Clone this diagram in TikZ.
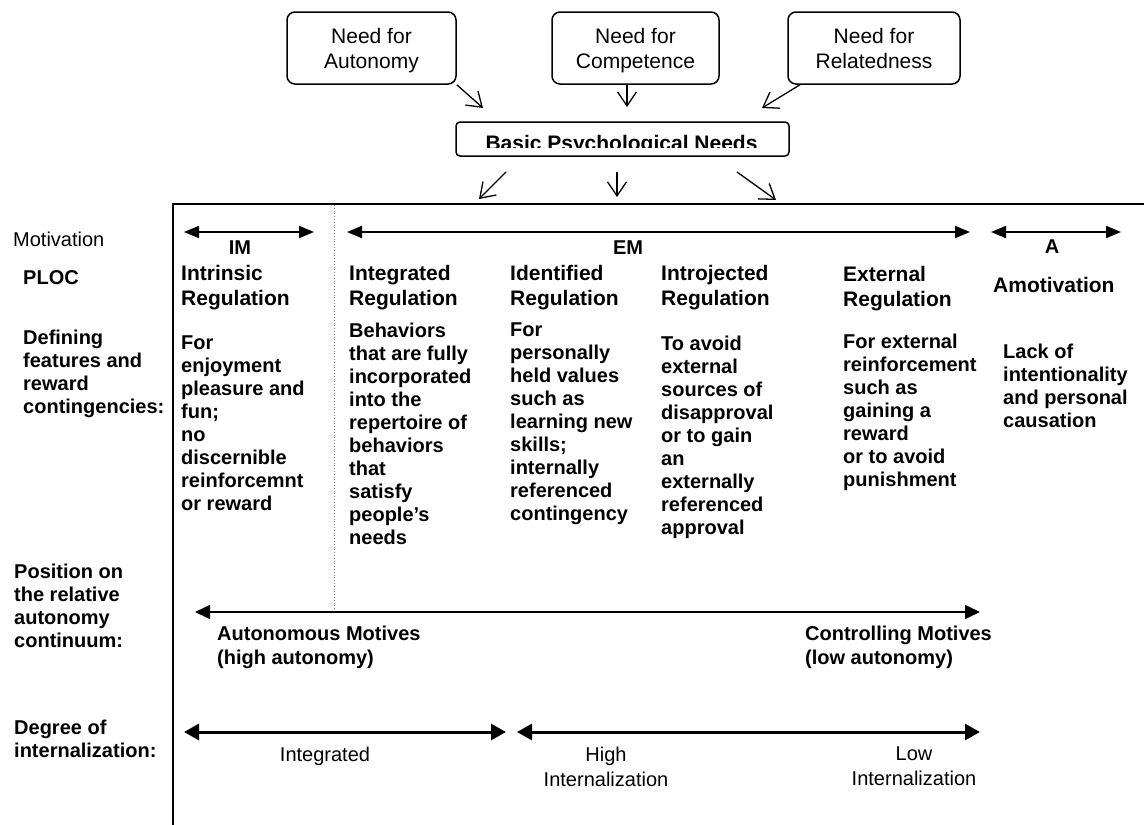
\documentclass[tikz,border=0pt]{standalone}
\usepackage{fontspec}
\setmainfont{Liberation Sans}
\usetikzlibrary{arrows.meta}
\begin{document}
\begin{tikzpicture}[x=1pt,y=-1pt,
  needbox/.style={draw, line width=1.5pt, rounded corners=8pt, minimum width=169pt, minimum height=72pt, inner sep=0pt, align=center, font=\fontsize{21}{25}\selectfont},
  basicbox/.style={draw, line width=1.5pt, rounded corners=4pt, minimum width=333pt, minimum height=34pt, inner sep=0pt},
  needarrow/.style={line width=1.3pt, -{Straight Barb[length=14pt,width=19pt,line width=1.3pt]}},
  catarrow/.style={line width=2pt, {Triangle[length=15pt,width=12pt]}-{Triangle[length=15pt,width=12pt]}},
  autarrow/.style={line width=1.5pt, {Triangle[length=15pt,width=14pt]}-{Triangle[length=15pt,width=14pt]}},
  degarrow/.style={line width=3pt, {Triangle[length=15pt,width=16pt]}-{Triangle[length=15pt,width=16pt]}},
  frame/.style={line width=1.8pt},
  bodytext/.style={font=\bfseries\fontsize{20}{23}\selectfont, align=left, anchor=north west, inner sep=0pt},
  titletext/.style={font=\bfseries\fontsize{21}{25}\selectfont, align=left, anchor=north west, inner sep=0pt},
  regtext/.style={font=\fontsize{20}{25}\selectfont, align=center, anchor=north, inner sep=0pt},
  cattext/.style={font=\bfseries\fontsize{20}{23}\selectfont, anchor=center, inner sep=0pt}
]
\useasboundingbox (0,0) rectangle (1144,825);

% top need boxes
\node[needbox] (aut) at (371.5,48) {Need for\\\smash{Autonomy}};
\node[needbox, minimum width=167pt] (comp) at (635.5,48) {Need for\\\smash{Competence}};
\node[needbox, minimum width=172pt] (rel) at (874,48) {Need for\\\smash{Relatedness}};

% basic needs box
\node[basicbox] (basic) at (622.5,139) {};
\begin{scope}
  \clip (458,124) rectangle (787,147);
  \node[font=\bfseries\fontsize{21}{24}\selectfont, anchor=base, inner sep=0pt] (basictext) at (621.5,150) {Basic Psychological Needs};
\end{scope}

% arrows into basic box
\coordinate (a1) at (483,108);
\coordinate (c1) at (627,107);
\coordinate (r1) at (762,108);
\draw[needarrow] (aut.south east) -- (a1);
\draw[needarrow] ([xshift=-8.5pt]comp.south) -- (c1);
\draw[needarrow] ([xshift=-74pt]rel.south) -- (r1);

% arrows out of basic box
\coordinate (b1s) at (506,172); \coordinate (b1e) at (479,199);
\coordinate (b2s) at (617,172); \coordinate (b2e) at (617,197);
\coordinate (b3s) at (737,172); \coordinate (b3e) at (776,200);
\draw[needarrow] (b1s) -- (b1e);
\draw[needarrow] (b2s) -- (b2e);
\draw[needarrow] (b3s) -- (b3e);

% frame
\coordinate (fbl) at (173,825);
\coordinate (ftl) at (173,204);
\coordinate (ftr) at (1144,204);
\draw[frame] (fbl) -- (ftl) -- (ftr);

% dotted separator
\coordinate (dtop) at (334,205);
\coordinate (dbot) at (334,612);
\draw[gray, dotted, line width=0.8pt] (dtop) -- (dbot);

% category arrows
\coordinate (im1) at (184,232); \coordinate (im2) at (314,232);
\coordinate (em1) at (347,232); \coordinate (em2) at (970,232);
\coordinate (am1) at (991,232); \coordinate (am2) at (1121,232);
\draw[catarrow] (im1) -- (im2);
\draw[catarrow] (em1) -- (em2);
\draw[catarrow] (am1) -- (am2);
\node[cattext] (imlab) at (240,248) {IM};
\node[cattext] (emlab) at (628,248) {EM};
\node[cattext] (alab) at (1052,247) {A};

% left labels
\node[font=\fontsize{20}{23}\selectfont, anchor=north west, inner sep=0pt] (motiv) at (13,232) {Motivation};
\node[bodytext] (ploc) at (23,270) {PLOC};
\node[bodytext] (defin) at (23,330) {Defining\\features and\\reward\\contingencies:};
\node[bodytext] (posit) at (14,564) {Position on\\the relative\\autonomy\\continuum:};
\node[bodytext] (degree) at (14,720) {Degree of\\internalization:};

% titles
\node[titletext] (t1) at (181,265) {Intrinsic\\Regulation};
\node[titletext] (t2) at (349,265) {Integrated\\Regulation};
\node[titletext] (t3) at (510,265) {Identified\\Regulation};
\node[titletext] (t4) at (661,265) {Introjected\\Regulation};
\node[titletext] (t5) at (843,266) {External\\Regulation};
\node[titletext] (t6) at (993,277) {Amotivation};

% body texts
\node[bodytext] (d1) at (181,336) {For\\enjoyment\\pleasure and\\fun;\\no\\discernible\\reinforcemnt\\or reward};
\node[bodytext] (d2) at (349,323) {Behaviors\\that are fully\\incorporated\\into the\\repertoire of\\behaviors\\that\\satisfy\\people’s\\needs};
\node[bodytext] (d3) at (510,323) {For\\personally\\held values\\such as\\learning new\\skills;\\internally\\referenced\\contingency};
\node[bodytext] (d4) at (661,336) {To avoid\\external\\sources of\\disapproval\\or to gain\\an\\externally\\referenced\\approval};
\node[bodytext] (d5) at (843,334) {For external\\reinforcement\\such as\\gaining a\\reward\\or to avoid\\punishment};
\node[bodytext] (d6) at (1003,344) {Lack of\\intentionality\\and personal\\causation};

% autonomy continuum
\coordinate (au1) at (195,612); \coordinate (au2) at (980,612);
\draw[autarrow] (au1) -- (au2);
\node[bodytext, font=\bfseries\fontsize{20}{24}\selectfont] (autmot) at (217,626) {Autonomous Motives\\(high autonomy)};
\node[bodytext, font=\bfseries\fontsize{20}{24}\selectfont] (conmot) at (805,626) {Controlling Motives\\(low autonomy)};

% internalization
\coordinate (g1) at (184,732); \coordinate (g2) at (506,732);
\coordinate (g3) at (517,732); \coordinate (g4) at (980,732);
\draw[degarrow] (g1) -- (g2);
\draw[degarrow] (g3) -- (g4);
\node[regtext] (integ) at (325,747) {Integrated};
\node[regtext] (highint) at (606,747) {High\\Internalization};
\node[regtext] (lowint) at (914,747) {Low\\Internalization};
\end{tikzpicture}
\end{document}
